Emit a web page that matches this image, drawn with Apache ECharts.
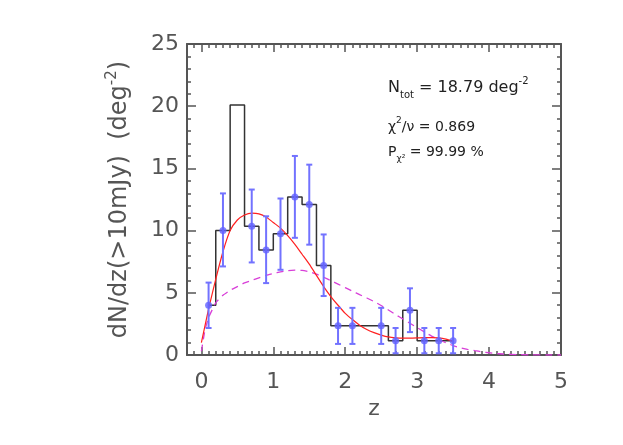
<!DOCTYPE html>
<html>
<head>
<meta charset="utf-8">
<script src="https://cdn.jsdelivr.net/npm/echarts@6/dist/echarts.min.js"></script>
<style>
  html, body { margin: 0; padding: 0; background: #fff; }
  #chart { width: 623px; height: 445px; }
</style>
</head>
<body>
<div id="chart"></div>
<script>
// tick labels
const xTickValues = [0, 1, 2, 3, 4, 5]
const yTickValues = [0, 5, 10, 15, 20, 25]

// histogram (bin centres, psym=10 style steps)
const histZ = [0.1, 0.3, 0.5, 0.7, 0.9, 1.1, 1.3, 1.5, 1.7, 1.9, 2.1, 2.3, 2.5, 2.7, 2.9, 3.1, 3.3, 3.5]
const histValues = [4.0, 10.0, 20.1, 10.35, 8.45, 9.75, 12.7, 12.1, 7.2, 2.35, 2.35, 2.35, 2.35, 1.15, 3.6, 1.15, 1.15, 1.15]

// points with error bars
const errZ = [0.1, 0.3, 0.7, 0.9, 1.1, 1.3, 1.5, 1.7, 1.9, 2.1, 2.5, 2.7, 2.9, 3.1, 3.3, 3.5]
const errValues = [4.0, 10.0, 10.35, 8.45, 9.75, 12.7, 12.1, 7.2, 2.35, 2.35, 2.35, 1.15, 3.6, 1.15, 1.15, 1.15]
const errLow = [2.17, 7.12, 7.44, 5.78, 6.85, 9.42, 8.87, 4.74, 0.89, 0.89, 0.89, 0.14, 1.84, 0.14, 0.14, 0.14]
const errHigh = [5.82, 12.99, 13.3, 11.15, 12.58, 16.0, 15.3, 9.69, 3.79, 3.79, 3.79, 2.17, 5.36, 2.17, 2.17, 2.17]

// red fit curve
const redZ = [0, 0.1, 0.2, 0.3, 0.4, 0.5, 0.6, 0.7, 0.8, 0.9, 1.0, 1.1, 1.2, 1.3, 1.4, 1.5, 1.6, 1.7,
  1.8, 1.9, 2.0, 2.1, 2.2, 2.3, 2.4, 2.5, 2.6, 2.7, 2.8, 2.9, 3.0, 3.1, 3.2, 3.3, 3.4, 3.5]
const redValues = [1.0, 3.7, 6.1, 8.3, 10.0, 10.85, 11.25, 11.4, 11.35, 11.1, 10.65, 10.2, 9.6, 8.9, 8.1, 7.3, 6.4, 5.5,
  4.7, 4.0, 3.35, 2.85, 2.4, 2.05, 1.8, 1.6, 1.45, 1.38, 1.35, 1.35, 1.37, 1.4, 1.4, 1.37, 1.27, 1.1]

// magenta dashed curve
const magZ = [0, 0.05, 0.1, 0.2, 0.3, 0.4, 0.5, 0.6, 0.7, 0.8, 0.9, 1.0, 1.1, 1.2, 1.3, 1.4, 1.5, 1.6, 1.7,
  1.8, 1.9, 2.0, 2.1, 2.2, 2.3, 2.4, 2.5, 2.6, 2.7, 2.8, 2.9, 3.0, 3.1, 3.2, 3.3, 3.4, 3.5, 3.6, 3.7,
  3.8, 3.9, 4.0, 4.1, 4.2, 4.4, 4.6, 4.8, 5.0]
const magValues = [0.3, 2.0, 3.0, 4.2, 4.8, 5.2, 5.5, 5.8, 6.0, 6.2, 6.4, 6.55, 6.68, 6.78, 6.82, 6.8, 6.7, 6.5, 6.25,
  5.98, 5.7, 5.42, 5.13, 4.85, 4.58, 4.3, 3.98, 3.62, 3.25, 2.9, 2.55, 2.2, 1.86, 1.52, 1.24, 0.98, 0.76, 0.58, 0.45,
  0.35, 0.26, 0.18, 0.12, 0.08, 0.03, 0.01, 0, 0]

const xMin = -0.2
const xMax = 5
const xMinor = []
for (let i = -2; i <= 50; i++) xMinor.push(i / 10)

const axisColor = '#555'
const textColor = '#555'
const font = 'DejaVu Sans'

function xAxisDef(position, ticks, len, showLine, showLabel) {
  return {
    type: 'value', position: position, min: xMin, max: xMax,
    axisLine: { show: showLine, onZero: false, lineStyle: { color: axisColor, width: 2 } },
    axisTick: { show: true, inside: true, length: len, customValues: ticks, lineStyle: { color: axisColor, width: 1.5 } },
    axisLabel: {
      show: showLabel, customValues: ticks, margin: 16,
      color: textColor, fontFamily: font, fontSize: 22
    },
    splitLine: { show: false }
  }
}

function yAxisDef(position, showLabel) {
  return {
    type: 'value', position: position, min: 0, max: 25, interval: 5,
    axisLine: { show: true, onZero: false, lineStyle: { color: axisColor, width: 2 } },
    axisTick: { show: true, inside: true, length: 9, lineStyle: { color: axisColor, width: 1.5 } },
    minorTick: { show: true, splitNumber: 5, length: 4, lineStyle: { color: axisColor, width: 1.5 } },
    axisLabel: {
      show: showLabel, margin: 8, color: textColor, fontFamily: font, fontSize: 22,
      customValues: yTickValues
    },
    splitLine: { show: false }
  }
}

const chart = echarts.init(document.getElementById('chart'))

chart.setOption({
  animation: false,
  backgroundColor: '#fff',
  grid: { left: 187, right: 62, top: 44, bottom: 90 },
  xAxis: [
    Object.assign(xAxisDef('bottom', xTickValues, 8, true, true), {
      name: 'z', nameLocation: 'middle', nameGap: 42,
      nameTextStyle: { color: textColor, fontFamily: font, fontSize: 22 }
    }),
    xAxisDef('bottom', xMinor, 4, false, false),
    xAxisDef('top', xTickValues, 8, true, false),
    xAxisDef('top', xMinor, 4, false, false)
  ],
  yAxis: [
    Object.assign(yAxisDef('left', true), {
      name: 'dN/dz(>10mJy)  (deg{sup|-2})',
      nameLocation: 'middle', nameRotate: 90, nameGap: 52,
      nameTextStyle: {
        color: textColor, fontFamily: font, fontSize: 24, lineHeight: 30,
        rich: { sup: { fontSize: 15, fontFamily: font, color: textColor, verticalAlign: 'top', lineHeight: 14 } }
      }
    }),
    yAxisDef('right', false)
  ],
  graphic: [
    {
      type: 'text', left: 388, top: 76,
      style: {
        text: 'N{sub|tot} = 18.79 deg{sup|-2}',
        fill: '#222', fontFamily: font, fontSize: 16, lineHeight: 24,
        rich: {
          sub: { fontSize: 10, fontFamily: font, fill: '#222', verticalAlign: 'bottom', lineHeight: 10 },
          sup: { fontSize: 10, fontFamily: font, fill: '#222', verticalAlign: 'top', lineHeight: 10 }
        }
      }
    },
    {
      type: 'text', left: 388, top: 116,
      style: {
        text: 'χ{sup|2}/ν = 0.869',
        fill: '#222', fontFamily: font, fontSize: 14, lineHeight: 22,
        rich: {
          sup: { fontSize: 9, fontFamily: font, fill: '#222', verticalAlign: 'top', lineHeight: 9 }
        }
      }
    },
    {
      type: 'text', left: 388, top: 141,
      style: {
        text: 'P{sub|χ²} = 99.99 %',
        fill: '#222', fontFamily: font, fontSize: 14, lineHeight: 22,
        rich: {
          sub: { fontSize: 9, fontFamily: font, fill: '#222', verticalAlign: 'bottom', lineHeight: 9 }
        }
      }
    }
  ],
  series: [
    {
      name: 'histogram', type: 'line', step: 'middle', xAxisIndex: 0, yAxisIndex: 0,
      data: histZ.map((z, i) => [z, histValues[i]]),
      symbol: 'none',
      lineStyle: { color: '#333', width: 1.5 },
      z: 2
    },
    {
      name: 'magenta', type: 'line', xAxisIndex: 0, yAxisIndex: 0,
      data: magZ.map((z, i) => [z, magValues[i]]),
      symbol: 'none', smooth: 0.15,
      lineStyle: { color: '#d83fd8', width: 1.3, type: [7, 5] },
      z: 3
    },
    {
      name: 'fit', type: 'line', xAxisIndex: 0, yAxisIndex: 0,
      data: redZ.map((z, i) => [z, redValues[i]]),
      symbol: 'none', smooth: 0.2,
      lineStyle: { color: '#ff2020', width: 1.2 },
      z: 4
    },
    {
      name: 'errors', type: 'custom', xAxisIndex: 0, yAxisIndex: 0,
      data: errZ.map((z, i) => [z, errValues[i], errLow[i], errHigh[i]]),
      encode: { x: 0, y: 1 },
      renderItem: function (params, api) {
        const x = api.value(0)
        const pLo = api.coord([x, api.value(2)])
        const pHi = api.coord([x, api.value(3)])
        const w = 3
        const st = { stroke: '#7272ff', lineWidth: 2 }
        return {
          type: 'group',
          children: [
            { type: 'line', shape: { x1: pLo[0], y1: pLo[1], x2: pHi[0], y2: pHi[1] }, style: st },
            { type: 'line', shape: { x1: pLo[0] - w, y1: pLo[1], x2: pLo[0] + w, y2: pLo[1] }, style: st },
            { type: 'line', shape: { x1: pHi[0] - w, y1: pHi[1], x2: pHi[0] + w, y2: pHi[1] }, style: st }
          ]
        }
      },
      z: 5
    },
    {
      name: 'points', type: 'scatter', xAxisIndex: 0, yAxisIndex: 0,
      data: errZ.map((z, i) => [z, errValues[i]]),
      symbol: 'circle', symbolSize: 7,
      itemStyle: { color: '#6262ff' },
      z: 6
    }
  ]
})
</script>
</body>
</html>
